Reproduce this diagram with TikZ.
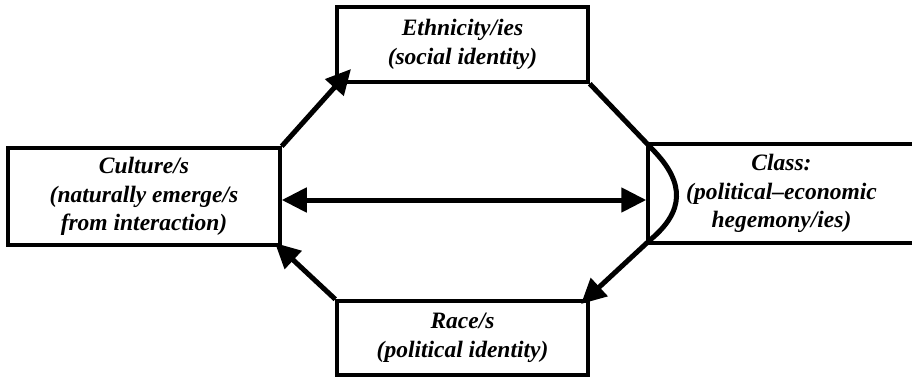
\documentclass[tikz,border=0pt]{standalone}
\usepackage{fontspec}
\setmainfont{Liberation Serif}
\usetikzlibrary{arrows.meta}
\begin{document}
\begin{tikzpicture}[x=1pt,y=-1pt,
  box/.style={draw,line width=3.5pt,inner sep=0pt,align=center,
    font=\fontsize{23.5}{28.5}\selectfont\bfseries\itshape},
  link/.style={line width=5pt,line join=miter},
  tip/.style={-{Triangle[length=25pt,width=24pt]}},
  both/.style={{Triangle[length=25pt,width=24pt]}-{Triangle[length=25pt,width=24pt]}}]
\clip (0,0) rectangle (912,377);
\fill[white] (0,0) rectangle (912,377);
% four boxes
\node[box,minimum width=272pt,minimum height=97pt] (cult) at (144,196.5)
  {Culture/s\\(naturally emerge/s\\from interaction)};
\node[box,minimum width=251pt,minimum height=75pt] (eth) at (462.5,44.5)
  {Ethnicity/ies\\(social identity)};
\node[box,minimum width=267pt,minimum height=99pt] (cls) at (781.5,193.5)
  {Class:\\(political--economic\\hegemony/ies)};
\node[box,minimum width=251pt,minimum height=74pt] (race) at (462.5,338)
  {Race/s\\(political identity)};
% arrow end points
\coordinate (ethtip) at (351,69);
\coordinate (racetip) at (581,304);
\coordinate (culttip) at (275,243);
% connectors
\draw[link,tip] (cult.north east) -- (ethtip);
\draw[link,tip] (eth.south east) -- (655,152)
  .. controls (684,183) and (685,211) .. (650,240) -- (racetip);
\draw[link,tip] (race.north west) -- (culttip);
\draw[link,both] ([yshift=-3.5pt]cult.east) -- ([yshift=-3.5pt]cult.east -| cls.west);
\end{tikzpicture}
\end{document}
